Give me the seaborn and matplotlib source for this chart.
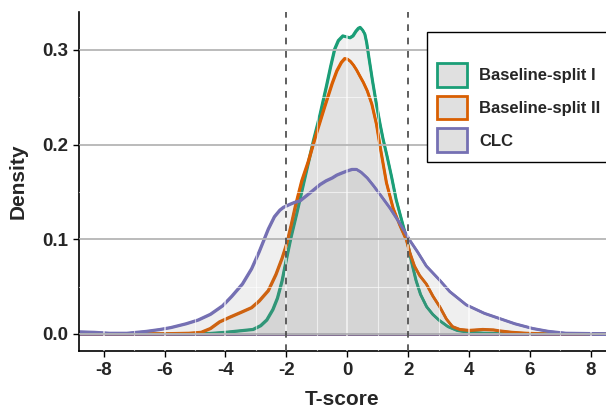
import matplotlib
matplotlib.use("Agg")
import matplotlib.pyplot as plt
from matplotlib.patches import Patch
from matplotlib.ticker import MultipleLocator
import seaborn as sns
import pandas as pd

# ---- data ----
labels = ["Baseline-split I", "Baseline-split II", "CLC"]
colors = ["#1b9e77", "#d95f02", "#7570b3"]

x_split1 = [-8.8, -6.0, -4.5, -4.0, -3.7, -3.4, -3.1, -2.85, -2.65, -2.45, -2.3, -2.15, -2.0, -1.85,
            -1.67, -1.4, -1.12, -0.9, -0.69, -0.55, -0.42, -0.3, -0.15, -0.03, 0.08, 0.18, 0.28, 0.36,
            0.42, 0.5, 0.57, 0.63, 0.7, 0.82, 0.95, 1.07, 1.17, 1.3, 1.45, 1.6, 1.8, 1.95, 2.1, 2.25,
            2.4, 2.6, 2.8, 3.0, 3.3, 3.6, 4.0, 4.5, 5.5, 8.5]
y_split1 = [0.0, 0.0, 0.0008, 0.002, 0.003, 0.004, 0.005, 0.009, 0.015, 0.026, 0.038, 0.056, 0.080, 0.103,
            0.127, 0.165, 0.204, 0.232, 0.262, 0.283, 0.301, 0.310, 0.315, 0.314, 0.313, 0.315, 0.320, 0.323,
            0.324, 0.321, 0.317, 0.308, 0.293, 0.268, 0.243, 0.222, 0.206, 0.188, 0.166, 0.142, 0.118,
            0.100, 0.077, 0.057, 0.042, 0.029, 0.021, 0.015, 0.008, 0.004, 0.002, 0.001, 0.0003, 0.0]

x_split2 = [-8.8, -6.0, -5.2, -4.8, -4.5, -4.2, -3.86, -3.5, -3.15, -2.9, -2.6, -2.35, -2.15, -2.0,
            -1.85, -1.72, -1.5, -1.29, -1.01, -0.75, -0.5, -0.35, -0.2, -0.09, 0.0, 0.1, 0.2, 0.3,
            0.4, 0.52, 0.65, 0.8, 0.95, 1.1, 1.28, 1.5, 1.72, 1.94, 2.05, 2.2, 2.37, 2.59, 2.81, 3.03,
            3.25, 3.45, 3.69, 4.0, 4.45, 4.8, 5.0, 5.4, 5.87, 6.5, 8.5]
y_split2 = [0.0003, 0.0005, 0.001, 0.002, 0.006, 0.013, 0.018, 0.023, 0.028, 0.035, 0.046, 0.063,
            0.080, 0.095, 0.115, 0.134, 0.162, 0.182, 0.213, 0.240, 0.265, 0.278, 0.287, 0.291, 0.2905,
            0.288, 0.284, 0.279, 0.273, 0.266, 0.257, 0.243, 0.222, 0.193, 0.160, 0.133, 0.115, 0.099,
            0.086, 0.072, 0.062, 0.053, 0.040, 0.029, 0.016, 0.008, 0.005, 0.004, 0.005, 0.0045,
            0.0035, 0.002, 0.001, 0.0003, 0.0]

x_clc = [-8.8, -8.3, -7.8, -7.24, -6.6, -6.15, -5.8, -5.3, -4.9, -4.5, -4.1, -3.8, -3.45, -3.15,
         -2.9, -2.6, -2.4, -2.22, -2.1, -1.9, -1.75, -1.55, -1.2, -0.9, -0.7, -0.5, -0.35, -0.2, 0.0,
         0.15, 0.3, 0.45, 0.65, 0.85, 1.06, 1.4, 1.72, 2.05, 2.3, 2.59, 3.03, 3.36, 3.9, 4.5, 5.0,
         5.5, 6.09, 6.6, 7.18, 8.5]
y_clc = [0.0025, 0.002, 0.001, 0.001, 0.003, 0.005, 0.007, 0.011, 0.015, 0.021, 0.030, 0.040, 0.053,
         0.069, 0.087, 0.111, 0.124, 0.131, 0.134, 0.137, 0.139, 0.141, 0.150, 0.158, 0.162, 0.165,
         0.168, 0.170, 0.1725, 0.174, 0.174, 0.171, 0.165, 0.157, 0.148, 0.133, 0.117, 0.099, 0.087,
         0.072, 0.057, 0.045, 0.031, 0.022, 0.0165, 0.011, 0.006, 0.003, 0.001, 0.0005]

series_x = [x_split1, x_split2, x_clc]
series_y = [y_split1, y_split2, y_clc]

thresholds = [-2, 2]
x_ticks = [-8, -6, -4, -2, 0, 2, 4, 6, 8]
y_ticks = [0.0, 0.1, 0.2, 0.3]
y_ticklabels = ["0.0", "0.1", "0.2", "0.3"]

# ---- style ----
sns.set_style("white")
plt.rcParams["font.family"] = ["Liberation Sans", "DejaVu Sans"]
plt.rcParams["font.weight"] = "bold"

fig = plt.figure(figsize=(6.06, 4.08), dpi=100)
ax = fig.add_axes([0.1304, 0.1397, 0.8696, 0.8309])

fill_rgba = (0.5, 0.5, 0.5, 0.12)
for xs, ys, c, lab in zip(series_x, series_y, colors, labels):
    df = pd.DataFrame({"T-score": xs, "Density": ys})
    ax.fill_between(df["T-score"], df["Density"], 0, facecolor=fill_rgba,
                    edgecolor=c, linewidth=1.9, zorder=1)
    sns.lineplot(data=df, x="T-score", y="Density", color=c, linewidth=1.9,
                 ax=ax, zorder=1, sort=False)

for t in thresholds:
    ax.axvline(t, color="#444444", linestyle=(0, (4, 4)), linewidth=1.2, zorder=3)

ax.set_xlim(-8.81, 8.5)
ax.set_ylim(-0.018, 0.340)
ax.set_xticks(x_ticks)
ax.set_xticklabels([str(t) for t in x_ticks])
ax.set_yticks(y_ticks)
ax.set_yticklabels(y_ticklabels)
ax.xaxis.set_minor_locator(MultipleLocator(1))
ax.yaxis.set_minor_locator(MultipleLocator(0.05))

ax.set_axisbelow(False)
ax.grid(which="major", axis="y", color="#b5b5b5", linewidth=1.3)
ax.grid(which="minor", axis="y", color="white", linewidth=0.8, alpha=0.6)
ax.grid(which="major", axis="x", color="white", linewidth=1.2, alpha=0.7)
ax.grid(which="minor", axis="x", color="white", linewidth=0.8, alpha=0.6)

for s in ["top", "right"]:
    ax.spines[s].set_visible(False)
for s in ["left", "bottom"]:
    ax.spines[s].set_color("black")
    ax.spines[s].set_linewidth(1.2)

ax.tick_params(axis="both", which="major", direction="out", length=4, width=1.0,
               color="black", labelsize=13.5, pad=4, left=True, bottom=True)
ax.tick_params(axis="both", which="minor", length=0)
for lab in ax.get_xticklabels() + ax.get_yticklabels():
    lab.set_fontweight("bold")

ax.set_xlabel("T-score", fontsize=15, fontweight="bold", labelpad=8)
ax.set_ylabel("Density", fontsize=15, fontweight="bold", labelpad=10)

handles = [Patch(facecolor="#e0e0e0", edgecolor=c, linewidth=2) for c in colors]
leg = fig.legend(handles, labels, loc="upper left", bbox_to_anchor=(0.705, 0.922),
                 bbox_transform=fig.transFigure, title=" ", title_fontsize=9.5,
                 prop={"weight": "bold", "size": 12}, frameon=True, fancybox=False,
                 framealpha=1, edgecolor="black", borderaxespad=0, handlelength=1.8,
                 handleheight=1.8, handletextpad=0.7, labelspacing=0.55, borderpad=0.6)
leg.get_frame().set_linewidth(1.0)

fig.savefig("out.png", dpi=100)
